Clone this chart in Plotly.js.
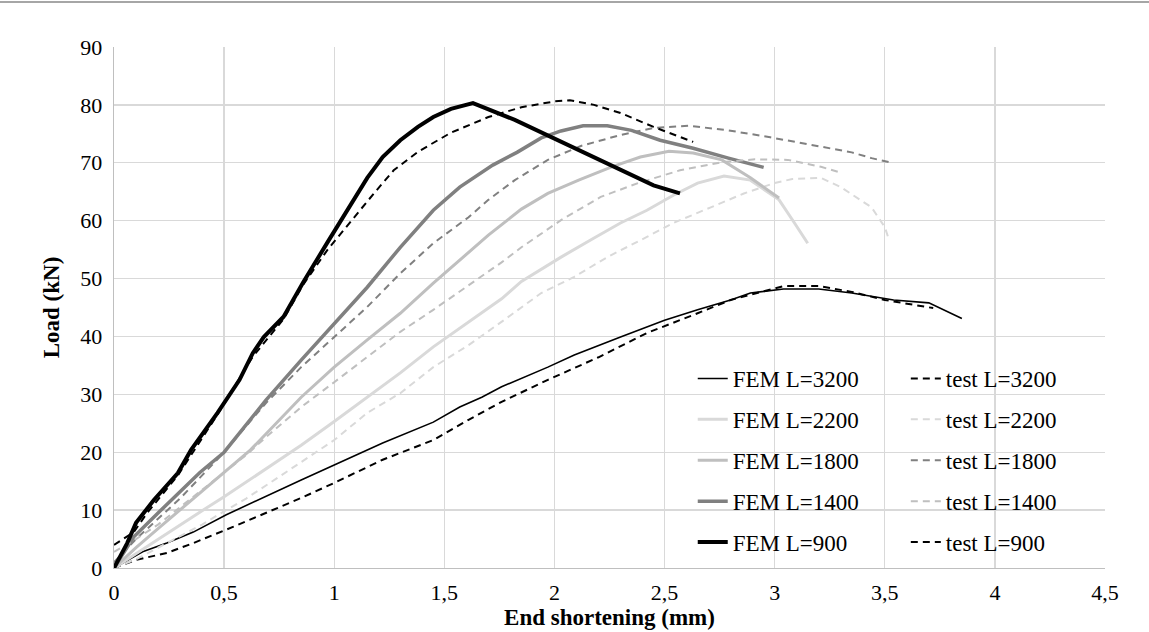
<!DOCTYPE html>
<html>
<head>
<meta charset="utf-8">
<script src="https://cdn.plot.ly/plotly-3.0.1.min.js"></script>
<style>
html,body{margin:0;padding:0;background:#fff;}
#chart{width:1149px;height:632px;}
</style>
</head>
<body>
<div id="chart"></div>
<script>
// ---- data ----
var fem3200X = [0, 0.13, 0.24, 0.36, 0.51, 0.65, 0.85, 1.0, 1.22, 1.45, 1.57, 1.67, 1.76, 1.97, 2.09, 2.30, 2.50, 2.65, 2.80, 2.89, 3.04, 3.20, 3.35, 3.54, 3.70, 3.85];
var fem3200Y = [0, 2.8, 4.3, 6.2, 9.2, 11.7, 15.2, 17.8, 21.6, 25.2, 27.8, 29.5, 31.3, 34.7, 36.8, 39.9, 42.8, 44.6, 46.3, 47.5, 48.2, 48.2, 47.5, 46.3, 45.8, 43.1];

var test3200X = [0, 0.10, 0.24, 0.36, 0.54, 0.69, 0.85, 1.0, 1.22, 1.45, 1.61, 1.76, 1.97, 2.20, 2.42, 2.65, 2.80, 2.89, 3.04, 3.20, 3.35, 3.50, 3.72];
var test3200Y = [0, 1.4, 2.6, 4.3, 7.1, 9.5, 12.1, 14.7, 18.7, 22.1, 25.6, 28.7, 32.5, 36.4, 40.6, 44.0, 46.3, 47.2, 48.7, 48.7, 47.7, 46.3, 44.9];

var fem2200X = [0, 0.1, 0.2, 0.3, 0.4, 0.5, 0.7, 0.85, 1.0, 1.15, 1.30, 1.45, 1.61, 1.76, 1.85, 2.03, 2.18, 2.30, 2.42, 2.54, 2.65, 2.77, 2.89, 3.02, 3.09, 3.15];
var fem2200Y = [0, 2.5, 5.0, 7.5, 9.9, 12.3, 17.3, 21.2, 25.3, 29.5, 33.7, 38.2, 42.5, 46.5, 49.5, 53.7, 57.0, 59.6, 61.8, 64.4, 66.5, 67.7, 67.0, 63.6, 59.6, 56.1];

var test2200X = [0, 0.1, 0.2, 0.3, 0.4, 0.5, 0.6, 0.7, 0.85, 1.0, 1.15, 1.30, 1.45, 1.61, 1.77, 1.94, 2.09, 2.24, 2.42, 2.54, 2.71, 2.86, 3.0, 3.08, 3.21, 3.30, 3.44, 3.50, 3.52];
var test2200Y = [0, 1.5, 3.5, 5.5, 7.5, 9.8, 12.0, 14.5, 18.3, 22.1, 26.8, 30.2, 34.7, 38.5, 42.8, 47.5, 50.3, 53.7, 57.2, 59.6, 62.3, 64.7, 66.5, 67.2, 67.4, 65.8, 62.3, 58.9, 56.6];

var fem1800X = [0, 0.1, 0.2, 0.3, 0.4, 0.5, 0.62, 0.85, 1.0, 1.15, 1.30, 1.45, 1.58, 1.70, 1.85, 1.97, 2.11, 2.26, 2.39, 2.52, 2.63, 2.76, 2.89, 3.02];
var fem1800Y = [0, 3.5, 6.8, 10.0, 13.2, 16.4, 20.4, 29.5, 34.7, 39.4, 44.0, 49.2, 53.5, 57.5, 62.0, 64.7, 67.0, 69.3, 71.0, 72.0, 71.7, 70.5, 67.4, 63.9];

var test1800X = [0, 0.1, 0.2, 0.3, 0.4, 0.5, 0.6, 0.69, 0.85, 1.0, 1.15, 1.30, 1.45, 1.61, 1.70, 1.82, 1.97, 2.12, 2.30, 2.45, 2.61, 2.79, 2.98, 3.18, 3.35, 3.44, 3.52];
var test1800Y = [1.0, 5.0, 8.5, 12.0, 16.0, 20.0, 24.5, 28.5, 34.7, 39.9, 45.1, 50.9, 56.1, 60.6, 63.6, 67.0, 70.5, 72.9, 74.8, 76.0, 76.4, 75.6, 74.4, 73.0, 71.8, 70.8, 70.1];

var fem1400X = [0, 0.09, 0.20, 0.32, 0.39, 0.5, 0.69, 0.85, 1.0, 1.15, 1.30, 1.45, 1.57, 1.72, 1.83, 1.94, 2.03, 2.13, 2.24, 2.35, 2.48, 2.63, 2.79, 2.95];
var fem1400Y = [0, 5.4, 9.5, 14.0, 16.5, 20.0, 29.0, 35.9, 42.3, 48.5, 55.4, 61.8, 65.8, 69.6, 71.8, 74.3, 75.5, 76.4, 76.4, 75.6, 73.9, 72.5, 70.8, 69.2];

var test1400X = [0, 0.1, 0.2, 0.3, 0.4, 0.5, 0.6, 0.69, 0.85, 1.0, 1.15, 1.30, 1.45, 1.61, 1.76, 1.85, 2.03, 2.21, 2.38, 2.57, 2.76, 2.91, 3.06, 3.21, 3.29];
var test1400Y = [2.8, 5.0, 7.5, 10.5, 13.5, 16.5, 19.5, 22.6, 27.8, 32.1, 36.4, 40.8, 44.6, 48.9, 52.8, 55.4, 60.1, 64.1, 66.5, 68.7, 70.1, 70.6, 70.5, 69.3, 68.4];

var fem900X = [0, 0.06, 0.10, 0.18, 0.29, 0.35, 0.47, 0.57, 0.63, 0.68, 0.77, 0.86, 0.97, 1.03, 1.15, 1.22, 1.30, 1.38, 1.45, 1.53, 1.63, 1.82, 1.92, 2.09, 2.21, 2.33, 2.45, 2.57];
var fem900Y = [0, 4.3, 7.8, 11.7, 16.4, 20.4, 26.8, 32.5, 37.1, 39.9, 43.4, 49.4, 56.3, 60.1, 67.4, 71.0, 73.9, 76.2, 77.9, 79.3, 80.3, 77.4, 75.6, 72.5, 70.5, 68.2, 66.1, 64.7];

var test900X = [0, 0.09, 0.15, 0.29, 0.47, 0.63, 0.77, 0.86, 0.97, 1.09, 1.18, 1.27, 1.38, 1.53, 1.70, 1.85, 2.0, 2.07, 2.18, 2.30, 2.45, 2.63];
var test900Y = [4.0, 6.2, 9.5, 16.0, 26.5, 36.5, 43.0, 49.0, 55.0, 60.6, 64.7, 68.7, 71.9, 75.2, 77.9, 79.6, 80.6, 80.8, 80.0, 78.6, 76.2, 73.6];

var seriesNames = ['FEM L=3200','FEM L=2200','FEM L=1800','FEM L=1400','FEM L=900',
                   'test L=3200','test L=2200','test L=1800','test L=1400','test L=900'];
var xTickVals = [0, 0.5, 1, 1.5, 2, 2.5, 3, 3.5, 4, 4.5];
var xTickText = ['0','0,5','1','1,5','2','2,5','3','3,5','4','4,5'];
var yTickVals = [0, 10, 20, 30, 40, 50, 60, 70, 80, 90];

// ---- styles ----
var FONT = 'Times New Roman, Liberation Serif, serif';
var DASH = '7px,5px';
function tr(x, y, name, color, width, dashed, legend, grp) {
  return {
    x: x, y: y, name: name, type: 'scatter', mode: 'lines',
    line: {color: color, width: width, dash: dashed ? DASH : 'solid'},
    legend: legend, legendgroup: grp, hoverinfo: 'skip'
  };
}

var data = [
  tr(fem3200X, fem3200Y, seriesNames[0], '#000000', 1.6, false, 'legend', 'a1'),
  tr(test3200X, test3200Y, seriesNames[5], '#000000', 2, true, 'legend2', 'b1'),
  tr(fem2200X, fem2200Y, seriesNames[1], '#d9d9d9', 3, false, 'legend', 'a2'),
  tr(test2200X, test2200Y, seriesNames[6], '#d9d9d9', 2, true, 'legend2', 'b2'),
  tr(fem1800X, fem1800Y, seriesNames[2], '#bfbfbf', 3, false, 'legend', 'a3'),
  tr(test1800X, test1800Y, seriesNames[7], '#808080', 2, true, 'legend2', 'b3'),
  tr(fem1400X, fem1400Y, seriesNames[3], '#808080', 3.5, false, 'legend', 'a4'),
  tr(test1400X, test1400Y, seriesNames[8], '#bfbfbf', 2, true, 'legend2', 'b4'),
  tr(fem900X, fem900Y, seriesNames[4], '#000000', 4, false, 'legend', 'a5'),
  tr(test900X, test900Y, seriesNames[9], '#000000', 2, true, 'legend2', 'b5')
];

var legendCommon = {
  bgcolor: 'rgba(0,0,0,0)', borderwidth: 0,
  font: {family: FONT, size: 23, color: '#000'},
  tracegroupgap: 8, traceorder: 'grouped',
  xanchor: 'left', yanchor: 'top', itemwidth: 30
};

var layout = {
  width: 1149, height: 632,
  margin: {l: 114, r: 44, t: 47, b: 64},
  paper_bgcolor: '#fff', plot_bgcolor: '#fff',
  font: {family: FONT, size: 22, color: '#000'},
  showlegend: true,
  legend: Object.assign({}, legendCommon, {x: 0.584, y: 0.405}),
  legend2: Object.assign({}, legendCommon, {x: 0.799, y: 0.405}),
  xaxis: {
    range: [0, 4.5], tickvals: xTickVals, ticktext: xTickText,
    showgrid: true, gridcolor: '#d9d9d9', gridwidth: 1.3,
    showline: true, linecolor: '#bfbfbf', linewidth: 1.3,
    zeroline: false, ticks: '', ticklabelstandoff: 4,
    tickfont: {family: FONT, size: 22, color: '#000'},
    title: {text: '<b>End shortening (mm)</b>', font: {family: FONT, size: 23, color: '#000'}, standoff: 0}
  },
  yaxis: {
    range: [0, 90], tickvals: yTickVals,
    showgrid: true, gridcolor: '#d9d9d9', gridwidth: 1.3,
    showline: true, linecolor: '#bfbfbf', linewidth: 1.3,
    zeroline: false, ticks: '', ticklabelstandoff: 6,
    tickfont: {family: FONT, size: 22, color: '#000'},
    title: {text: '<b>Load (kN)</b>', font: {family: FONT, size: 23, color: '#000'}, standoff: 14}
  },
  shapes: [{
    type: 'line', xref: 'paper', yref: 'paper',
    x0: -114/991, x1: 1035/991, y0: 566/521, y1: 566/521,
    line: {color: '#a6a6a6', width: 2}
  }]
};

Plotly.newPlot('chart', data, layout, {staticPlot: true, displayModeBar: false});
</script>
</body>
</html>
